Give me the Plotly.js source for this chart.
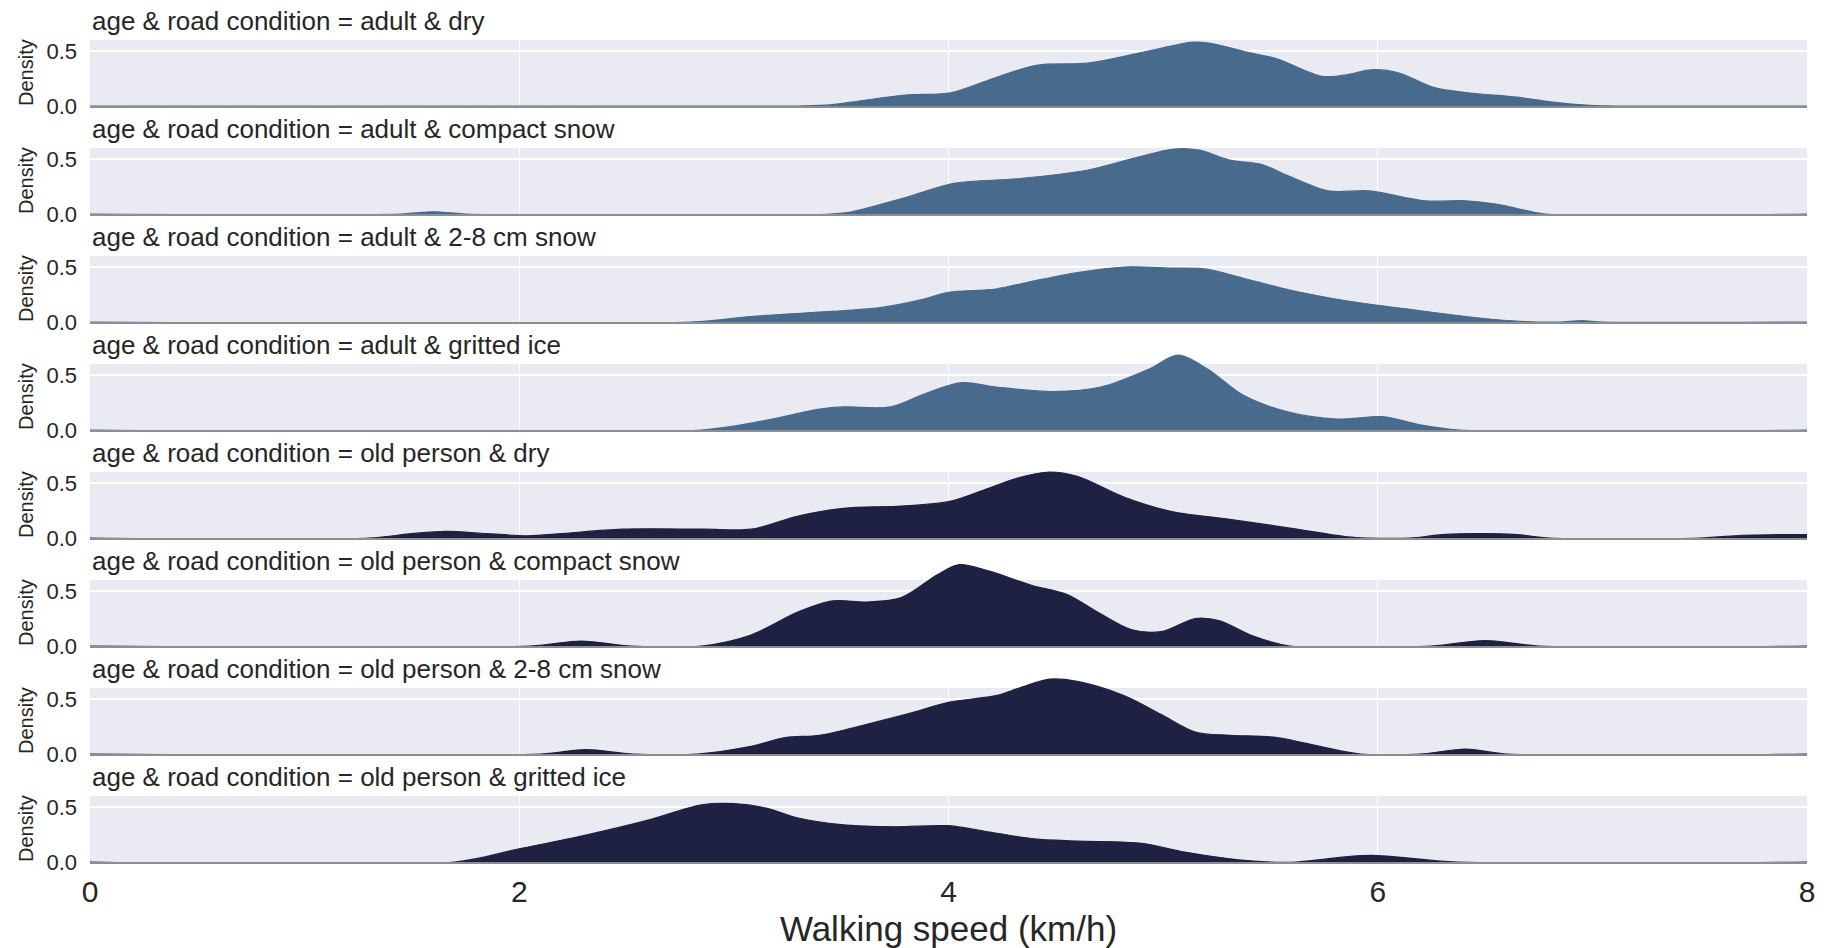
<!DOCTYPE html>
<html>
<head>
<meta charset="utf-8">
<script src="https://cdn.plot.ly/plotly-3.0.1.min.js"></script>
<style>html,body{margin:0;padding:0;background:#fff;}#chart{width:1837px;height:948px;}</style>
</head>
<body>
<div id="chart"></div>
<script>
// Categories
const ages = ["adult", "adult", "adult", "adult", "old person", "old person", "old person", "old person"];
const conditions = ["dry", "compact snow", "2-8 cm snow", "gritted ice", "dry", "compact snow", "2-8 cm snow", "gritted ice"];

// Density curves (walking speed km/h -> density)
const adultDryX = [0, 3.3, 3.45, 3.6, 3.8, 4.01, 4.18, 4.41, 4.65, 4.91, 5.14, 5.22, 5.41, 5.53, 5.74, 5.84, 5.98, 6.10, 6.26, 6.42, 6.65, 6.84, 6.99, 7.1, 8];
const adultDryY = [0, 0, 0.01, 0.05, 0.10, 0.12, 0.23, 0.37, 0.39, 0.49, 0.58, 0.57, 0.48, 0.43, 0.27, 0.28, 0.33, 0.30, 0.17, 0.12, 0.08, 0.03, 0.005, 0, 0];

const adultCompactX = [0, 1.45, 1.6, 1.75, 3.45, 3.55, 3.80, 4.03, 4.32, 4.65, 4.87, 5.05, 5.17, 5.31, 5.46, 5.58, 5.77, 5.96, 6.22, 6.41, 6.55, 6.65, 6.78, 8];
const adultCompactY = [0, 0, 0.02, 0, 0, 0.02, 0.15, 0.28, 0.32, 0.40, 0.51, 0.59, 0.58, 0.49, 0.45, 0.35, 0.21, 0.21, 0.12, 0.12, 0.09, 0.05, 0, 0];

const adultSnowX = [0, 2.8, 3.08, 3.40, 3.68, 3.89, 4.0, 4.22, 4.39, 4.6, 4.82, 5.04, 5.2, 5.37, 5.59, 5.86, 6.13, 6.41, 6.63, 6.75, 6.85, 6.95, 7.05, 8];
const adultSnowY = [0, 0, 0.05, 0.09, 0.13, 0.21, 0.27, 0.30, 0.37, 0.45, 0.50, 0.49, 0.48, 0.40, 0.29, 0.19, 0.12, 0.05, 0.01, 0, 0, 0.012, 0, 0];

const adultIceX = [0, 2.85, 3.13, 3.4, 3.51, 3.73, 3.89, 4.06, 4.22, 4.49, 4.71, 4.93, 5.07, 5.21, 5.37, 5.59, 5.81, 6.03, 6.19, 6.38, 8];
const adultIceY = [0, 0, 0.08, 0.19, 0.21, 0.21, 0.33, 0.43, 0.39, 0.35, 0.39, 0.55, 0.68, 0.55, 0.32, 0.16, 0.10, 0.12, 0.05, 0, 0];

const oldDryX = [0, 1.3, 1.5, 1.66, 1.85, 2.04, 2.2, 2.48, 2.86, 3.08, 3.3, 3.51, 3.78, 4.0, 4.17, 4.33, 4.47, 4.6, 4.82, 5.04, 5.31, 5.59, 5.86, 5.95, 6.15, 6.3, 6.48, 6.65, 6.8, 7.5, 7.7, 7.85, 8.0];
const oldDryY = [0, 0, 0.04, 0.06, 0.04, 0.02, 0.04, 0.08, 0.08, 0.08, 0.2, 0.27, 0.29, 0.33, 0.44, 0.55, 0.60, 0.56, 0.37, 0.24, 0.17, 0.09, 0.01, 0, 0, 0.03, 0.04, 0.03, 0, 0, 0.025, 0.03, 0.03];

const oldCompactX = [0, 2.05, 2.29, 2.52, 2.85, 3.08, 3.3, 3.46, 3.62, 3.78, 3.95, 4.05, 4.19, 4.39, 4.55, 4.71, 4.85, 4.99, 5.15, 5.26, 5.42, 5.59, 6.25, 6.5, 6.75, 8];
const oldCompactY = [0, 0, 0.045, 0, 0, 0.10, 0.31, 0.41, 0.40, 0.44, 0.65, 0.74, 0.68, 0.55, 0.47, 0.29, 0.15, 0.13, 0.25, 0.23, 0.09, 0, 0, 0.05, 0, 0];

const oldSnowX = [0, 2.1, 2.31, 2.53, 2.83, 3.08, 3.24, 3.4, 3.62, 3.84, 4.0, 4.22, 4.33, 4.47, 4.6, 4.82, 4.99, 5.15, 5.31, 5.53, 5.75, 5.92, 6.2, 6.41, 6.6, 8];
const oldSnowY = [0, 0, 0.04, 0, 0, 0.07, 0.15, 0.17, 0.27, 0.38, 0.47, 0.53, 0.60, 0.68, 0.66, 0.53, 0.36, 0.20, 0.17, 0.15, 0.06, 0, 0, 0.045, 0, 0];

const oldIceX = [0, 1.7, 2.0, 2.3, 2.6, 2.85, 3.0, 3.15, 3.3, 3.5, 3.75, 4.0, 4.2, 4.4, 4.6, 4.9, 5.1, 5.35, 5.5, 5.62, 5.96, 6.37, 8];
const oldIceY = [0, 0, 0.12, 0.24, 0.38, 0.52, 0.53, 0.49, 0.40, 0.34, 0.32, 0.33, 0.27, 0.21, 0.19, 0.17, 0.09, 0.02, 0, 0, 0.06, 0, 0];

// Axis ticks
const xTicks = [0, 2, 4, 6, 8];
const yTicks = [0, 0.5];
const yTickText = ["0.0", "0.5"];
const xTitle = "Walking speed (km/h)";
const yTitle = "Density";

const seriesX = [adultDryX, adultCompactX, adultSnowX, adultIceX, oldDryX, oldCompactX, oldSnowX, oldIceX];
const seriesY = [adultDryY, adultCompactY, adultSnowY, adultIceY, oldDryY, oldCompactY, oldSnowY, oldIceY];

const colorByAge = {"adult": "#476a8d", "old person": "#1e2141"};
const FONT = "Liberation Sans, Arial, Helvetica, sans-serif";
const TXT = "#262626";

// layout geometry (pixels)
const W = 1837, H = 948;
const mT = 10, mB = 86, mL = 90, mR = 30;
const plotH = H - mT - mB;
const bgTop = 0.6, extTop = 0.8, pxPerUnit = 110;

const traces = [];
const layout = {
  width: W, height: H,
  margin: {l: mL, r: mR, t: mT, b: mB, pad: 0},
  paper_bgcolor: "#ffffff",
  plot_bgcolor: "rgba(0,0,0,0)",
  showlegend: false,
  font: {family: FONT, color: TXT},
  shapes: [],
  annotations: []
};

for (let i = 0; i < 8; i++) {
  const sfx = i === 0 ? "" : String(i + 1);
  const xa = "x" + sfx, ya = "y" + sfx;
  const col = colorByAge[ages[i]];
  traces.push({
    type: "scatter", mode: "lines",
    x: seriesX[i], y: seriesY[i],
    xaxis: xa, yaxis: ya,
    fill: "tozeroy", fillcolor: col,
    line: {color: col, width: 1.2, shape: "spline", smoothing: 0.9},
    hoverinfo: "skip"
  });
  const bottomPx = 106 + 108 * i;
  const topPx = bottomPx - extTop * pxPerUnit;
  const isLast = i === 7;
  layout["xaxis" + sfx] = {
    domain: [0, 1], anchor: ya, range: [0, 8],
    tickvals: xTicks, ticktext: xTicks.map(String),
    showticklabels: isLast, ticks: "",
    ticklabelstandoff: 2,
    tickfont: {size: 30, family: FONT, color: TXT},
    showgrid: true, gridcolor: "#ffffff", gridwidth: 1,
    zeroline: false,
    showline: true, linecolor: "#8e8e8e", linewidth: 2,
    fixedrange: true,
    title: isLast ? {text: xTitle, font: {size: 35, family: FONT, color: TXT}, standoff: 10} : {text: ""}
  };
  if (!isLast) layout["xaxis" + sfx].matches = "x8";
  layout["yaxis" + sfx] = {
    domain: [(H - mB - bottomPx) / plotH, (H - mB - topPx) / plotH],
    anchor: xa, range: [0, extTop],
    tickvals: yTicks, ticktext: yTickText, ticks: "",
    ticklabelstandoff: 12,
    tickfont: {size: 22, family: FONT, color: TXT},
    showgrid: true, gridcolor: "#ffffff", gridwidth: 1.5,
    zeroline: false, showline: false, fixedrange: true
  };
  layout.shapes.push({
    type: "rect", xref: xa, yref: ya, x0: 0, x1: 8, y0: 0, y1: bgTop,
    fillcolor: "#eaeaf2", line: {width: 0}, layer: "below"
  });
  layout.annotations.push({
    text: "age & road condition = " + ages[i] + " & " + conditions[i],
    xref: "paper", yref: ya, x: 0, y: bgTop,
    xanchor: "left", yanchor: "bottom", yshift: 2, showarrow: false,
    font: {size: 26, family: FONT, color: TXT}
  });
  layout.annotations.push({
    text: yTitle, textangle: -90,
    xref: "paper", yref: ya, x: 0, y: 0.3, xshift: -64,
    xanchor: "center", yanchor: "middle", showarrow: false,
    font: {size: 20, family: FONT, color: TXT}
  });
}

Plotly.newPlot("chart", traces, layout, {displayModeBar: false, staticPlot: true});
</script>
</body>
</html>
